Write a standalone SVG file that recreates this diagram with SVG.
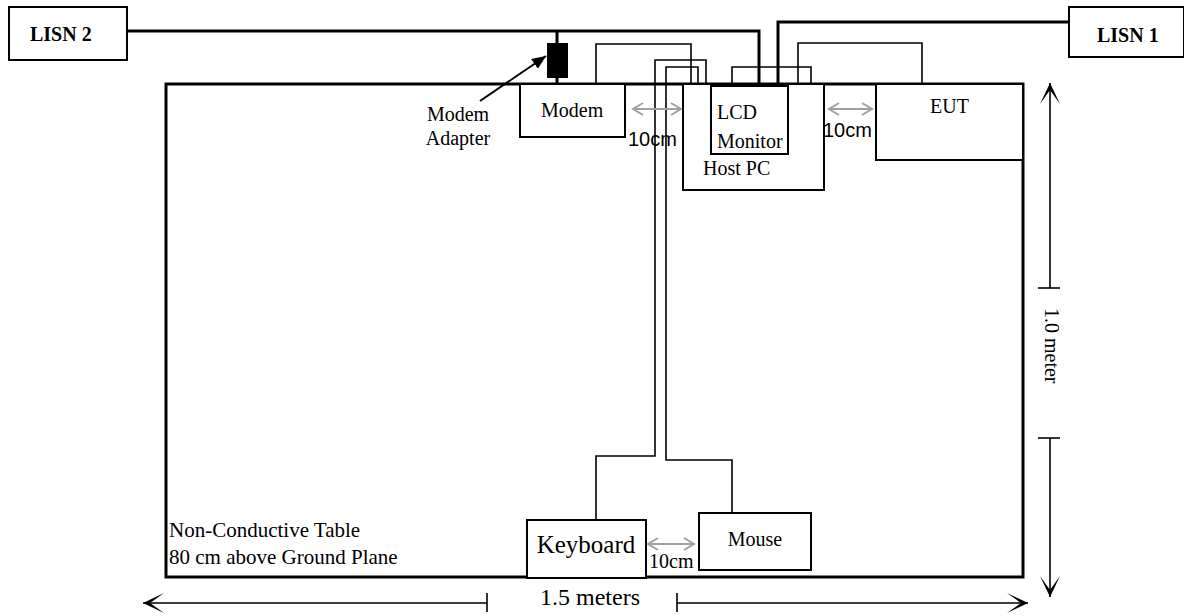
<svg xmlns="http://www.w3.org/2000/svg" width="1184" height="616" viewBox="0 0 1184 616">
<defs>
<style>
.box{fill:#fff;stroke:#000;stroke-width:2}
.table{fill:none;stroke:#000;stroke-width:3}
.serif{font-family:"Liberation Serif","Times New Roman",serif;font-size:20px;fill:#000}
.bold{font-weight:bold}
.sans{font-family:"Liberation Sans",Arial,sans-serif;font-size:20px;fill:#000}
.power{fill:none;stroke:#000;stroke-width:3}
.cable{fill:none;stroke:#000;stroke-width:1.6}
.gap{fill:none;stroke:#a0a0a0;stroke-width:2}
.dim{fill:none;stroke:#000;stroke-width:1.6}
</style>
<marker id="dimArrow" viewBox="-22 -11 24 22" refX="0" refY="0" markerWidth="24" markerHeight="22" markerUnits="userSpaceOnUse" orient="auto">
<path d="M0,0 L-21,-10 L-7,0 L-21,10 Z" fill="#000"/>
</marker>
<marker id="ptr" viewBox="-14 -6 15 12" refX="0" refY="0" markerWidth="15" markerHeight="12" markerUnits="userSpaceOnUse" orient="auto">
<path d="M0,0 L-14,-6 L-14,6 Z" fill="#000"/>
</marker>
</defs>

<g id="table">
<rect class="table" x="166" y="84" width="857" height="493"/>
<text class="serif" x="169" y="537" style="font-size:21px">Non-Conductive Table</text>
<text class="serif" x="169" y="564" style="font-size:21px">80 cm above Ground Plane</text>
</g>

<g id="connectors">
<path class="power" d="M127,31 H759 V84"/>
<path class="power" d="M557,31 V84"/>
<path class="power" d="M1069,22 H778 V84"/>
<path class="cable" d="M596,84 V44 H691 V84"/>
<path class="cable" d="M596,520 V456 H655 V60 H706 V84"/>
<path class="cable" d="M732,513 V460 H666 V67 H698 V84"/>
<path class="cable" d="M732,84 V67 H811 V84"/>
<path class="cable" d="M798,86 V43 H922 V84"/>
<line x1="480" y1="101" x2="546" y2="56" stroke="#000" stroke-width="2" marker-end="url(#ptr)"/>
</g>

<g id="lisn2">
<rect class="box" x="9" y="7" width="118" height="53"/>
<text class="serif bold" x="30" y="41">LISN 2</text>
</g>

<g id="lisn1">
<rect class="box" x="1069" y="7" width="115" height="50"/>
<text class="serif bold" x="1097" y="42">LISN 1</text>
</g>

<g id="modem-adapter">
<rect x="547" y="43" width="21" height="35" fill="#000"/>
<text class="serif" x="458" y="121" text-anchor="middle">Modem</text>
<text class="serif" x="458" y="145" text-anchor="middle">Adapter</text>
</g>

<g id="modem">
<rect class="box" x="520" y="84" width="105" height="53"/>
<text class="serif" x="541" y="117">Modem</text>
</g>

<g id="host-pc">
<rect class="box" x="683" y="84" width="141" height="106"/>
<text class="serif" x="703" y="175">Host PC</text>
</g>

<g id="lcd-monitor">
<rect class="box" x="711" y="84" width="77" height="70"/>
<line x1="711" y1="85" x2="788" y2="85" stroke="#000" stroke-width="4"/>
<text class="serif" x="717" y="119">LCD</text>
<text class="serif" x="717" y="148">Monitor</text>
</g>

<g id="eut">
<rect class="box" x="876" y="84" width="147" height="76"/>
<text class="serif" x="930" y="113">EUT</text>
</g>

<g id="keyboard">
<rect class="box" x="527" y="520" width="119" height="58"/>
<text class="serif" x="586" y="553" text-anchor="middle" style="font-size:25px">Keyboard</text>
</g>

<g id="mouse">
<rect class="box" x="699" y="513" width="112" height="57"/>
<text class="serif" x="755" y="546" text-anchor="middle">Mouse</text>
</g>

<g id="spacing">
<path class="gap" d="M633,109 H681 M643,103 L633,109 L643,115 M671,103 L681,109 L671,115"/>
<text class="sans" x="628" y="146">10cm</text>
<path class="gap" d="M829,109 H872 M839,103 L829,109 L839,115 M862,103 L872,109 L862,115"/>
<text class="sans" x="823" y="137">10cm</text>
<path class="gap" d="M648,544 H694 M658,538 L648,544 L658,550 M684,538 L694,544 L684,550"/>
<text class="serif" x="649" y="568">10cm</text>
</g>

<g id="dimensions">
<line class="dim" x1="487" y1="603" x2="143" y2="603" marker-end="url(#dimArrow)"/>
<line class="dim" x1="487" y1="593" x2="487" y2="612"/>
<line class="dim" x1="677" y1="603" x2="1028" y2="603" marker-end="url(#dimArrow)"/>
<line class="dim" x1="677" y1="593" x2="677" y2="612"/>
<text class="serif" x="540" y="605" style="font-size:24px">1.5 meters</text>
<line class="dim" x1="1050" y1="288" x2="1050" y2="83" marker-end="url(#dimArrow)"/>
<line class="dim" x1="1038" y1="288" x2="1060" y2="288"/>
<line class="dim" x1="1050" y1="438" x2="1050" y2="597" marker-end="url(#dimArrow)"/>
<line class="dim" x1="1038" y1="438" x2="1060" y2="438"/>
<text class="serif" transform="translate(1045,308) rotate(90)">1.0 meter</text>
</g>
</svg>
